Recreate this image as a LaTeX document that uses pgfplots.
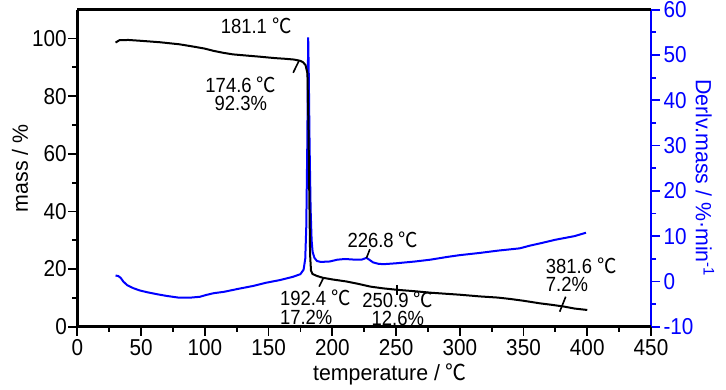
\documentclass[border=0pt]{standalone}
\usepackage{fontspec}
\setmainfont{Liberation Sans}[FakeStretch=0.9]
\newfontfamily\labelfont{Liberation Sans}[FakeStretch=0.97]
\newfontfamily\cjk{Noto Sans CJK SC}[FakeStretch=0.95]
\newcommand{\degC}{\hspace{0.25em}{\cjk ℃}}
\usepackage{pgfplots}
\pgfplotsset{compat=1.18}
\usepackage{pgfplotstable}

\pgfplotstableread{
T m
30 98.6
33 99.4
40 99.5
50 99.2
65 98.7
80 98.0
91 97.2
100 96.5
107 95.7
115 95.0
122 94.5
135 94.0
143 93.7
155 93.2
162 93.0
170 92.7
174.6 92.3
177 91.8
179 90.8
180.5 88
181.3 70
182 45
182.6 25
183.3 19.5
184.5 18.3
188 17.6
192.4 17.0
200 16.4
211 15.7
220 14.9
230 13.9
240 13.3
250.9 12.8
265 12.3
277 11.8
290 11.4
300 11.1
316 10.5
330 10.1
340 9.6
350 9.0
363 8.1
372 7.6
381.6 7.0
390 6.3
400 5.8
}\massdata

\pgfplotstableread{
T d
30 1.3
32 1.2
34 0.8
36 0.0
39 -0.8
44 -1.5
49 -2.0
55 -2.4
62 -2.8
70 -3.2
80 -3.6
88 -3.6
96 -3.4
101 -3.0
107 -2.6
115 -2.3
127 -1.6
138 -1.0
148 -0.3
159 0.3
169 1.0
175 1.6
177.5 2.6
178.8 5
179.6 12
180.4 30
181.1 53.9
181.6 45
182.2 30
183 16
183.8 9
184.6 6.5
186 5.2
188 4.5
191 4.3
198 4.4
204 4.8
210 4.95
218 4.8
223 4.8
226.8 5.2
229 4.8
232 4.2
236 3.9
240 3.8
250 4.0
265 4.4
277 4.8
290 5.4
300 5.8
316 6.3
330 6.8
347 7.3
355 7.9
363 8.4
375 9.2
390 10.0
399 10.75
}\dtgdata

\begin{document}
\begin{tikzpicture}
\useasboundingbox (-77.3pt,-63.3pt) rectangle (648.7pt,326.7pt);
% right axis (DTG, blue)
\begin{axis}[
  scale only axis, width=573.7pt, height=317pt,
  at={(0,0)}, anchor=south west,
  xmin=0, xmax=450, ymin=-10, ymax=60,
  axis x line=none, axis y line*=right,
  ytick={-10,0,...,60}, minor y tick num=1,
  tick align=outside, major tick length=9pt, minor tick length=5pt,
  y axis line style={blue, line width=2.5pt},
  ytick style={blue, line width=1.8pt},
  tick label style={font=\fontsize{23}{24}\selectfont},
  /pgf/number format/assume math mode=true,
  yticklabel style={blue},
  ylabel={Derlv.mass / \%·min\textsuperscript{-1}},
  ylabel style={blue, font=\labelfont\fontsize{22}{24}\selectfont, at={(axis description cs:1.094,0.469)}, anchor=center, rotate=180},
]
\addplot[blue, line width=2pt, no marks] table[x=T, y=d] {\dtgdata};
\end{axis}
% left axis (mass, black)
\begin{axis}[
  scale only axis, width=573.7pt, height=317pt,
  at={(0,0)}, anchor=south west,
  xmin=0, xmax=450, ymin=0, ymax=110,
  axis x line*=box, axis y line*=left,
  xtick={0,50,...,450}, minor x tick num=1,
  ytick={0,20,...,100}, minor y tick num=1,
  xtick pos=bottom, ytick pos=left,
  tick align=outside, major tick length=9pt, minor tick length=5pt,
  axis line style={black, line width=2.5pt},
  tick style={black, line width=1.8pt},
  tick label style={font=\fontsize{23}{24}\selectfont},
  yticklabel style={xshift=2pt},
  /pgf/number format/assume math mode=true,
  xlabel={temperature / {\cjk ℃}},
  ylabel={mass / \%},
  xlabel style={font=\labelfont\fontsize{22}{24}\selectfont, at={(axis description cs:0.545,-0.152)}, anchor=center},
  ylabel style={font=\labelfont\fontsize{22}{24}\selectfont, at={(axis description cs:-0.0999,0.5)}, anchor=center},
]
\addplot[black, line width=2pt, no marks] table[x=T, y=m] {\massdata};
\begin{scope}[every node/.style={font=\fontsize{20.5}{18.5}\selectfont, inner sep=0pt}]
\node at (axis cs:140.3,104.3) {181.1\degC};
\node[align=center] at (axis cs:128.3,80.9) {174.6\degC\\92.3\%};
\node at (axis cs:239.7,30.2) {226.8\degC};
\node[align=left, anchor=west] at (axis cs:158.9,6.7) {192.4\degC\\17.2\%};
\node[align=center] at (axis cs:251.4,6.2) {250.9\degC\\12.6\%};
\node[align=left, anchor=west] at (axis cs:367.4,18.0) {381.6\degC\\7.2\%};
\end{scope}
\draw[black, line width=1.6pt] (axis cs:173.8,92.2) -- (axis cs:169.3,88.1);
\draw[black, line width=1.6pt] (axis cs:226.8,23.8) -- (axis cs:229.5,26.9);
\draw[black, line width=1.6pt] (axis cs:192.9,16.8) -- (axis cs:189.7,13.9);
\draw[black, line width=1.6pt] (axis cs:250.9,14.5) -- (axis cs:250.9,11.0);
\draw[black, line width=1.6pt] (axis cs:378.4,5.2) -- (axis cs:383.1,10.4);
\end{axis}
\end{tikzpicture}
\end{document}
